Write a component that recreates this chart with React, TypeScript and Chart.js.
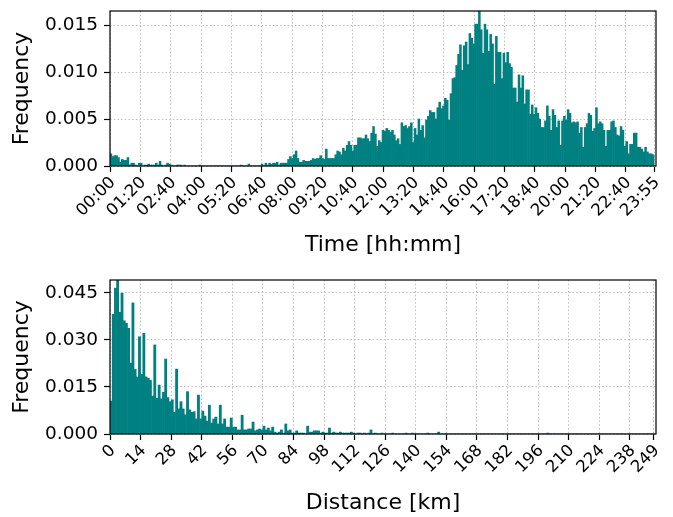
import React, { useEffect, useRef } from "react";
import { Chart, registerables } from "chart.js";

Chart.register(...registerables);

// ---------- Data ----------
const timeRangeEnd = 1435; // minutes, last bin edge (23:55)
const timeFrequency = [
  0.0013, 0.0010, 0.0011, 0.0011, 0.0009, 0.0004, 0.0007, 0.0006, 0.0006, 0.0009, 0.0001, 0.0003, 0.0003, 0.0001, 0, 0.0003,
  0.0003, 0, 0.0001, 0.0001, 0.0002, 0.0001, 0.0001, 0.0001, 0.0003, 0.0001, 0.0005, 0.0001, 0, 0.0001, 0.0003, 0.0002,
  0.0001, 0, 0, 0.0001, 0.0001, 0.0001, 0, 0.0001, 0, 0, 0, 0, 0, 0, 0, 0.0001,
  0, 0, 0, 0, 0, 0, 0, 0, 0, 0, 0, 0, 0, 0, 0, 0,
  0, 0, 0, 0, 0, 0.0001, 0, 0, 0, 0.0002, 0, 0, 0, 0, 0, 0,
  0.0002, 0, 0.0003, 0.0001, 0.0003, 0.0002, 0.0003, 0.0003, 0.0004, 0.0001, 0.0003, 0.0003, 0.0003, 0.0003, 0.0007, 0.0010,
  0.0008, 0.0012, 0.0016, 0.0008, 0.0004, 0.0004, 0.0006, 0.0005, 0.0005, 0.0005, 0.0006, 0.0008, 0.0007, 0.0008, 0.0008, 0.0011,
  0.0008, 0.0007, 0.0018, 0.0008, 0.0008, 0.0008, 0.0008, 0.0012, 0.0016, 0.0015, 0.0012, 0.0019, 0.0016, 0.0022, 0.0026, 0.0022,
  0.0016, 0.0022, 0.0022, 0.0030, 0.0030, 0.0029, 0.0029, 0.0033, 0.0029, 0.0026, 0.0035, 0.0042, 0.0034, 0.0021, 0.0027, 0.0025,
  0.0038, 0.0037, 0.0040, 0.0038, 0.0036, 0.0038, 0.0033, 0.0027, 0.0029, 0.0023, 0.0046, 0.0042, 0.0043, 0.0040, 0.0042, 0.0046,
  0.0025, 0.0040, 0.0033, 0.0050, 0.0038, 0.0043, 0.0030, 0.0049, 0.0053, 0.0059, 0.0057, 0.0057, 0.0050, 0.0062, 0.0068, 0.0061,
  0.0064, 0.0072, 0.0070, 0.0049, 0.0077, 0.0093, 0.0094, 0.0107, 0.0119, 0.0129, 0.0102, 0.0128, 0.0132, 0.0108, 0.0141, 0.0136,
  0.0130, 0.0151, 0.0151, 0.0165, 0.0145, 0.0120, 0.0151, 0.0145, 0.0122, 0.0140, 0.0130, 0.0087, 0.0138, 0.0121, 0.0121, 0.0093,
  0.0120, 0.0110, 0.0121, 0.0109, 0.0105, 0.0083, 0.0083, 0.0068, 0.0097, 0.0083, 0.0096, 0.0066, 0.0081, 0.0081, 0.0055, 0.0065,
  0.0055, 0.0062, 0.0056, 0.0050, 0.0041, 0.0041, 0.0048, 0.0064, 0.0053, 0.0038, 0.0060, 0.0054, 0.0041, 0.0048, 0.0022, 0.0048,
  0.0053, 0.0049, 0.0060, 0.0056, 0.0046, 0.0047, 0.0046, 0.0047, 0.0035, 0.0041, 0.0020, 0.0041, 0.0045, 0.0056, 0.0054, 0.0037,
  0.0040, 0.0062, 0.0045, 0.0047, 0.0045, 0.0038, 0.0021, 0.0038, 0.0038, 0.0047, 0.0048, 0.0041, 0.0033, 0.0032, 0.0042, 0.0038,
  0.0021, 0.0026, 0.0013, 0.0023, 0.0023, 0.0035, 0.0035, 0.0020, 0.0020, 0.0018, 0.0015, 0.0020, 0.0015, 0.0013, 0.0013, 0.0012,
];
const timeTickValues = [0, 80, 160, 240, 320, 400, 480, 560, 640, 720, 800, 880, 960, 1040, 1120, 1200, 1280, 1360, 1435];
const timeTickLabels = [
  "00:00", "01:20", "02:40", "04:00", "05:20", "06:40", "08:00", "09:20", "10:40", "12:00",
  "13:20", "14:40", "16:00", "17:20", "18:40", "20:00", "21:20", "22:40", "23:55",
];
const timeYTicks = [0, 0.005, 0.01, 0.015];

const distanceRangeEnd = 249; // km, last bin edge
const distanceFrequency = [
  0.0105, 0.0382, 0.0465, 0.0491, 0.0388, 0.0449, 0.0361, 0.0353, 0.0337, 0.0226, 0.0418, 0.0206, 0.0182, 0.0310,
  0.0190, 0.0321, 0.0182, 0.0178, 0.0171, 0.0121, 0.0284, 0.0114, 0.0156, 0.0112, 0.0133, 0.0239, 0.0116, 0.0103,
  0.0109, 0.0069, 0.0207, 0.0080, 0.0103, 0.0080, 0.0061, 0.0135, 0.0077, 0.0069, 0.0071, 0.0048, 0.0124, 0.0048,
  0.0073, 0.0057, 0.0041, 0.0092, 0.0035, 0.0048, 0.0054, 0.0032, 0.0092, 0.0032, 0.0048, 0.0022, 0.0022, 0.0051,
  0.0022, 0.0022, 0.0013, 0.0013, 0.0060, 0.0013, 0.0013, 0.0016, 0.0016, 0.0038, 0.0010, 0.0013, 0.0016, 0.0013,
  0.0025, 0.0013, 0.0019, 0.0010, 0.0022, 0.0006, 0.0003, 0.0006, 0.0013, 0.0003, 0.0032, 0.0010, 0.0013, 0.0003,
  0.0003, 0.0010, 0.0003, 0.0003, 0.0003, 0, 0.0025, 0.0006, 0.0006, 0.0010, 0.0010, 0.0010, 0.0003, 0.0006,
  0.0003, 0.0003, 0.0019, 0.0003, 0.0006, 0.0003, 0.0003, 0.0006, 0.0003, 0.0003, 0.0003, 0.0003, 0.0006, 0.0003,
  0, 0.0003, 0.0003, 0, 0.0003, 0, 0.0003, 0.0013, 0, 0.0003, 0, 0, 0.0003, 0,
  0, 0, 0, 0.0003, 0, 0, 0, 0, 0, 0.0003, 0, 0, 0.0003, 0,
  0, 0, 0, 0, 0, 0.0003, 0, 0, 0, 0, 0.0006, 0, 0, 0,
  0, 0, 0, 0, 0, 0, 0, 0, 0, 0, 0, 0, 0, 0,
  0, 0, 0, 0, 0, 0, 0, 0, 0, 0, 0, 0, 0, 0,
  0, 0, 0, 0, 0, 0, 0, 0, 0, 0, 0, 0, 0, 0,
  0, 0, 0, 0, 0.0003, 0, 0, 0, 0, 0, 0, 0, 0, 0,
  0, 0, 0, 0, 0, 0, 0, 0, 0, 0, 0, 0, 0, 0,
  0, 0, 0, 0, 0, 0, 0, 0, 0, 0, 0, 0, 0, 0,
  0, 0, 0, 0, 0, 0, 0, 0, 0, 0, 0,
];
const distanceTickValues = [0, 14, 28, 42, 56, 70, 84, 98, 112, 126, 140, 154, 168, 182, 196, 210, 224, 238, 249];
const distanceTickLabels = [
  "0", "14", "28", "42", "56", "70", "84", "98", "112", "126", "140", "154", "168", "182", "196", "210", "224", "238", "249",
];
const distanceYTicks = [0, 0.015, 0.03, 0.045];

// ---------- Chart helpers ----------
const FONT = "'DejaVu Sans', 'Liberation Sans', sans-serif";
const BAR_COLOR = "#008080";

const framePlugin = {
  id: "frame",
  afterDraw(chart: any) {
    const { ctx, chartArea: a } = chart;
    ctx.save();
    ctx.strokeStyle = "#000";
    ctx.lineWidth = 1.2;
    ctx.strokeRect(a.left, a.top, a.right - a.left, a.bottom - a.top);
    ctx.restore();
  },
};

type HistSpec = {
  values: number[];
  rangeEnd: number;
  xMax: number;
  yMax: number;
  xTickValues: number[];
  xTickLabels: string[];
  yTicks: number[];
  xTitle: string;
  padTop: number;
  xAxisHeight: number;
  xTitlePadBottom: number;
};

function makeConfig(s: HistSpec): any {
  const binWidth = s.rangeEnd / s.values.length;
  const points = s.values.map((v, i) => ({ x: (i + 0.5) * binWidth, y: v }));
  const gridCommon = {
    color: "#bdbdbd",
    lineWidth: 1,
    drawTicks: true,
    tickLength: 6,
    tickColor: "#000",
    tickWidth: 1.2,
    tickBorderDash: [],
    offset: false,
  };
  return {
    type: "bar",
    data: {
      datasets: [
        {
          data: points,
          backgroundColor: BAR_COLOR,
          borderWidth: 0,
          barPercentage: 1,
          categoryPercentage: 1,
        },
      ],
    },
    options: {
      responsive: false,
      animation: false,
      devicePixelRatio: 1,
      layout: { padding: { top: s.padTop, right: 17, left: 0, bottom: 0 } },
      plugins: { legend: { display: false }, tooltip: { enabled: false } },
      scales: {
        x: {
          type: "linear",
          min: 0,
          max: s.xMax,
          offset: false,
          afterBuildTicks: (scale: any) => {
            scale.ticks = s.xTickValues.map((v) => ({ value: v }));
          },
          afterFit: (scale: any) => {
            scale.height = s.xAxisHeight;
            scale.paddingLeft = 0;
            scale.paddingRight = 0;
          },
          ticks: {
            autoSkip: false,
            minRotation: 45,
            maxRotation: 45,
            padding: 1,
            labelOffset: 3,
            color: "#000",
            font: { family: FONT, size: 16.5 },
            callback: (_v: any, i: number) => s.xTickLabels[i],
          },
          grid: gridCommon,
          border: { display: false, dash: [1.5, 2.2] },
          title: {
            display: true,
            text: s.xTitle,
            color: "#000",
            font: { family: FONT, size: 22 },
            padding: { top: 0, bottom: s.xTitlePadBottom },
          },
        },
        y: {
          type: "linear",
          min: 0,
          max: s.yMax,
          afterBuildTicks: (scale: any) => {
            scale.ticks = s.yTicks.map((v) => ({ value: v }));
          },
          afterFit: (scale: any) => {
            scale.width = 110;
            scale.paddingTop = 0;
            scale.paddingBottom = 0;
          },
          ticks: {
            padding: 6,
            color: "#000",
            font: { family: FONT, size: 18.5 },
            callback: (v: any) => Number(v).toFixed(3),
          },
          grid: gridCommon,
          border: { display: false, dash: [1.5, 2.2] },
          title: {
            display: true,
            text: "Frequency",
            color: "#000",
            font: { family: FONT, size: 22 },
            padding: { top: 9, bottom: 0 },
          },
        },
      },
    },
    plugins: [framePlugin],
  };
}

function HistCanvas({ spec, top, height }: { spec: HistSpec; top: number; height: number }) {
  const ref = useRef<HTMLCanvasElement | null>(null);
  useEffect(() => {
    if (!ref.current) return;
    const chart = new Chart(ref.current, makeConfig(spec));
    return () => chart.destroy();
  }, []);
  return (
    <div style={{ position: "absolute", left: 0, top, width: 673, height }}>
      <canvas ref={ref} width={673} height={height} style={{ display: "block", width: 673, height }} />
    </div>
  );
}

export default function App() {
  const timeSpec: HistSpec = {
    values: timeFrequency,
    rangeEnd: timeRangeEnd,
    xMax: 1440,
    yMax: 0.0165,
    xTickValues: timeTickValues,
    xTickLabels: timeTickLabels,
    yTicks: timeYTicks,
    xTitle: "Time [hh:mm]",
    padTop: 11,
    xAxisHeight: 96,
    xTitlePadBottom: 4,
  };
  const distSpec: HistSpec = {
    values: distanceFrequency,
    rangeEnd: distanceRangeEnd,
    xMax: 250,
    yMax: 0.0491,
    xTickValues: distanceTickValues,
    xTickLabels: distanceTickLabels,
    yTicks: distanceYTicks,
    xTitle: "Distance [km]",
    padTop: 18,
    xAxisHeight: 83,
    xTitlePadBottom: 1,
  };
  return (
    <div style={{ position: "fixed", left: 0, top: 0, width: 673, height: 517, background: "#fff" }}>
      <HistCanvas spec={timeSpec} top={0} height={262} />
      <HistCanvas spec={distSpec} top={262} height={255} />
    </div>
  );
}
